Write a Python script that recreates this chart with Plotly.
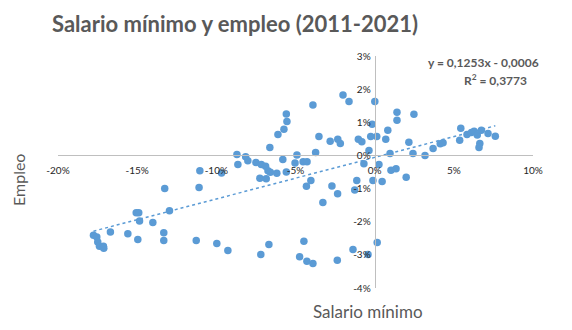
import plotly.graph_objects as go

# Salario mínimo (% change), Empleo (% change)
salario = [-5.58, -5.54, -5.73, -6.11, -6.62, -8.70, -8.15, -8.01, -8.64, -7.50,
           -7.16, -6.89, -6.74, -6.59, -6.18, -5.80, -5.58, -4.91, -5.03, -4.52,
           -4.27, -7.25, -6.85, -11.04, -9.67, -11.09, -4.31, -3.90, -2.00, -1.62,
           0.01, 1.41, 1.41, 2.48, -0.16, 0.83, -3.52, -2.81, -2.33, -2.17,
           -1.03, -0.81, -0.25, 0.13, 0.70, 2.16, 2.42, 0.97, -0.36, -3.73,
           -0.68, 0.27, 1.03, 1.35, 1.99, -4.03, -2.70, -2.34, -1.13, -1.26,
           -0.11, 0.47, 5.44, 5.83, 6.11, 6.28, 6.48, 6.74, 7.16, 7.62,
           5.37, 6.64, 6.59, 3.69, 4.14, 4.32, 3.18, -3.27, -9.97, -9.27,
           -7.19, -6.68, -4.47, -4.74, -4.28, -3.90, -2.36, -1.37, -0.42, 0.16,
           -13.26, -12.96, -15.06, -14.90, -14.85, -14.01, -16.69, -15.59, -17.76, -17.55,
           -17.49, -17.38, -17.13, -17.11, -14.96, -13.32, -13.32, -11.27]
empleo = [1.25, 1.02, 0.79, 0.63, 0.24, 0.03, -0.04, -0.16, -0.27, -0.21,
          -0.27, -0.33, -0.46, -0.51, -0.54, -0.12, -0.50, 0.01, -0.23, -0.19,
          -0.19, -0.69, -0.70, -0.46, -0.53, -0.97, -0.93, 1.52, 1.82, 1.63,
          1.63, 1.30, 1.06, 1.24, 0.94, 0.76, 0.57, 0.43, 0.49, 0.36,
          0.49, 0.41, 0.57, 0.57, 0.49, 0.40, 0.06, 0.06, 0.15, 0.09,
          -0.25, -0.27, -0.45, -0.40, -0.66, -0.76, -0.92, -1.16, -0.76, -1.04,
          -0.76, -0.79, 0.82, 0.63, 0.69, 0.73, 0.62, 0.76, 0.66, 0.58,
          0.46, 0.36, 0.24, 0.21, 0.35, 0.38, 0.00, -1.42, -2.66, -2.87,
          -2.99, -2.69, -2.59, -3.06, -3.19, -3.26, -3.16, -2.84, -2.99, -2.63,
          -1.00, -1.67, -1.73, -1.73, -1.98, -2.02, -2.31, -2.36, -2.41, -2.46,
          -2.61, -2.74, -2.74, -2.80, -2.54, -2.33, -2.57, -2.57]

# Trend line (from the displayed equation, in fraction units)
slope = 0.1253
intercept = -0.0006
r2 = 0.3773

x_ticks = [-20, -15, -10, -5, 0, 5, 10]
x_labels = ["-20%", "-15%", "-10%", "-5%", "0%", "5%", "10%"]
y_ticks = [3, 2, 1, 0, -1, -2, -3, -4]
y_labels = ["3%", "2%", "1%", "0%", "-1%", "-2%", "-3%", "-4%"]

title_text = "Salario mínimo y empleo (2011-2021)"
eq_text = "y = 0,1253x - 0,0006"
r2_text = "R<sup>2</sup> = 0,3773"

BLUE = "#5b9bd5"
GRAY = "#595959"
FONT = "Lato"

xmin, xmax = min(salario), max(salario)
trend_x = [xmin, xmax]
trend_y = [slope * v + intercept * 100 for v in trend_x]

fig = go.Figure()
fig.add_trace(go.Scatter(
    x=trend_x, y=trend_y, mode="lines",
    line=dict(color=BLUE, width=1.5, dash="dot"),
    hoverinfo="skip", showlegend=False))
fig.add_trace(go.Scatter(
    x=salario, y=empleo, mode="markers",
    marker=dict(color=BLUE, size=7.5, line=dict(width=0)),
    showlegend=False))

fig.update_layout(
    width=572, height=330,
    margin=dict(l=58, r=39, t=56, b=42),
    paper_bgcolor="white", plot_bgcolor="white",
    title=dict(text="<b>" + title_text + "</b>", x=52 / 572, xanchor="left",
               y=1 - 24 / 330, yanchor="middle",
               font=dict(family=FONT, size=22, color=GRAY, weight=900)),
    xaxis=dict(range=[-20, 10], tickvals=x_ticks, ticktext=x_labels,
               showgrid=False, zeroline=False, showline=True,
               linecolor="#bfbfbf", linewidth=1,
               anchor="free", position=4 / 7,
               ticks="outside", ticklen=6, tickcolor="rgba(0,0,0,0)",
               tickfont=dict(family=FONT, size=10, color="#262626")),
    yaxis=dict(range=[-4, 3], tickvals=y_ticks, ticktext=y_labels,
               showgrid=False, zeroline=False, showline=True,
               linecolor="#bfbfbf", linewidth=1,
               anchor="free", position=2 / 3,
               ticks="outside", ticklen=2, tickcolor="rgba(0,0,0,0)",
               tickfont=dict(family=FONT, size=10, color="#262626")),
    annotations=[
        dict(text="Empleo", xref="paper", yref="paper", x=-40 / 475, y=108 / 232,
             textangle=-90, showarrow=False, xanchor="center", yanchor="middle",
             font=dict(family=FONT, size=16, color=GRAY)),
        dict(text="Salario mínimo", xref="paper", yref="paper", x=310 / 475, y=-23 / 232,
             showarrow=False, xanchor="center", yanchor="middle",
             font=dict(family=FONT, size=17, color=GRAY)),
        dict(text="<b>" + eq_text + "</b>", xref="paper", yref="paper", x=425 / 475, y=226 / 232,
             showarrow=False, xanchor="center", yanchor="middle",
             font=dict(family=FONT, size=12, color=GRAY)),
        dict(text="<b>" + r2_text + "</b>", xref="paper", yref="paper", x=437 / 475, y=208 / 232,
             showarrow=False, xanchor="center", yanchor="middle",
             font=dict(family=FONT, size=12, color=GRAY)),
    ],
)

fig.write_html("out.html")
